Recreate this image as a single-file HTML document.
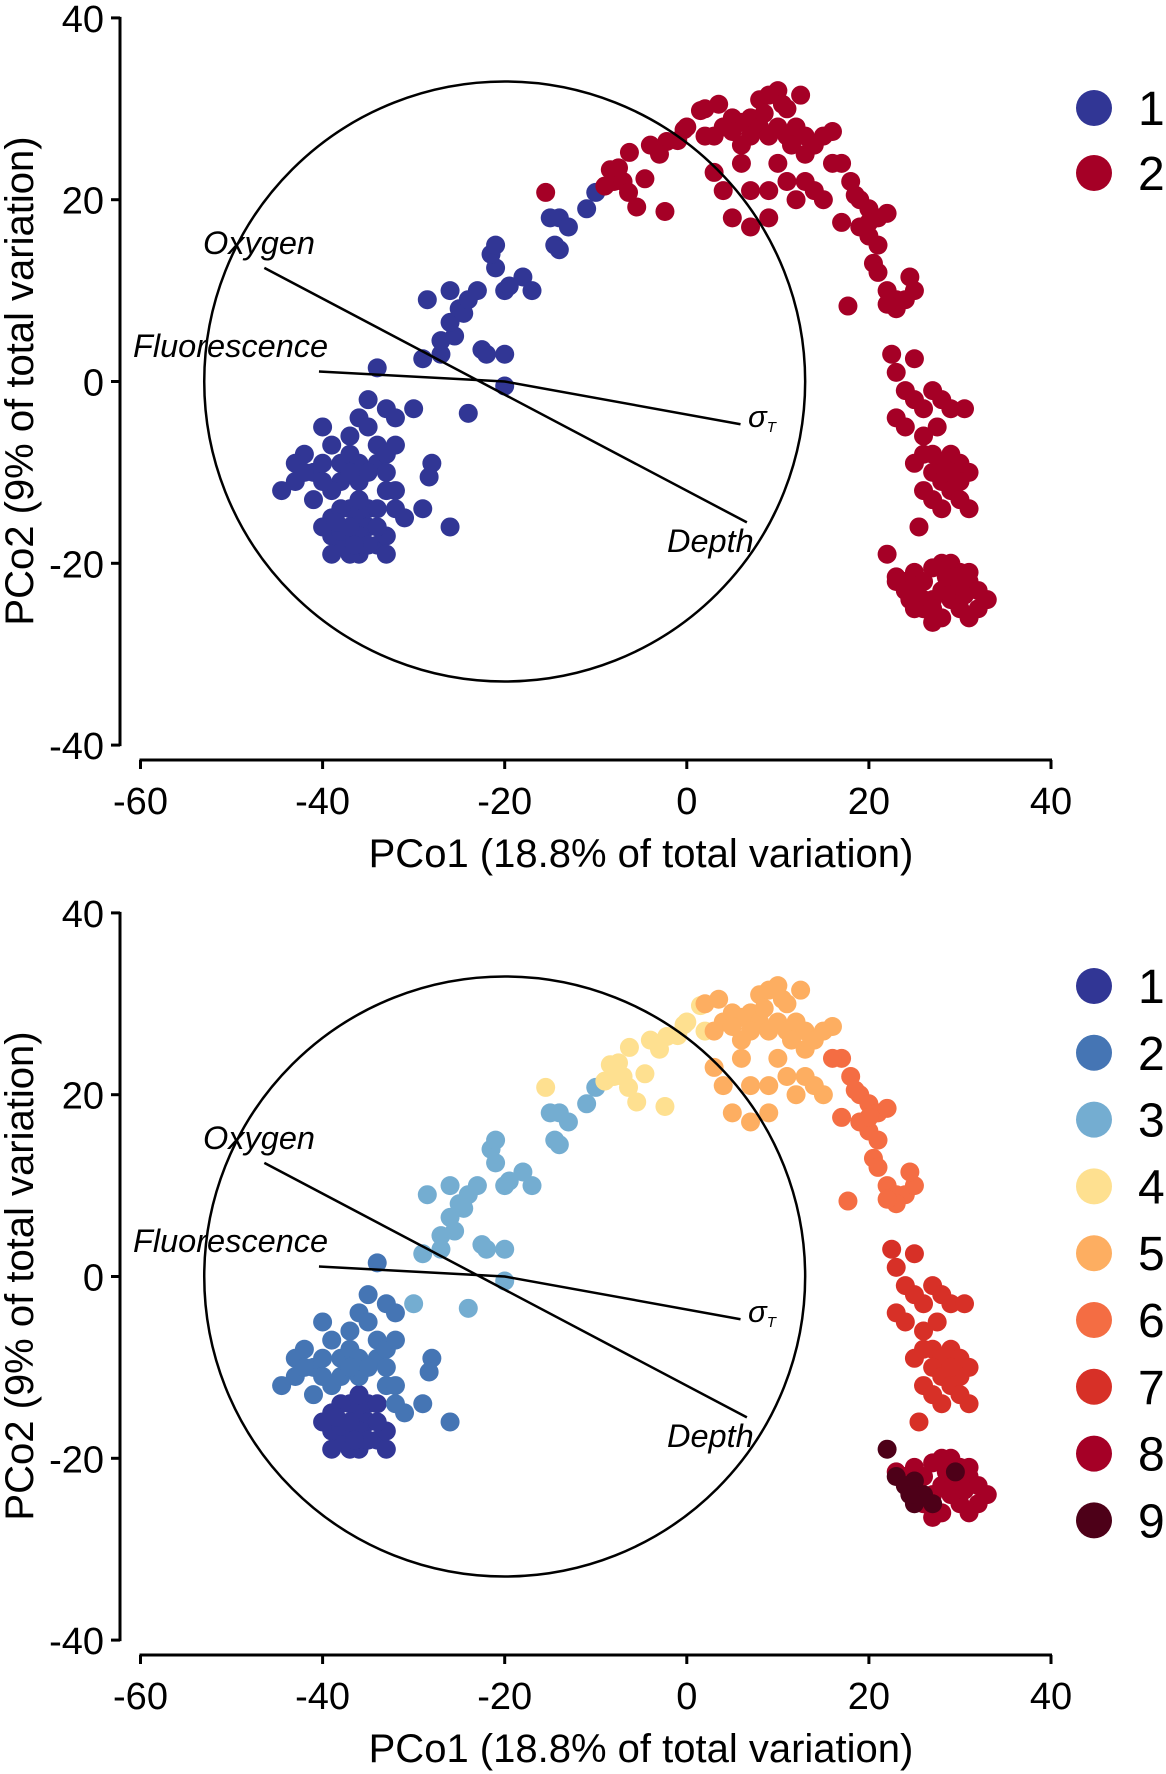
<!DOCTYPE html>
<html><head><meta charset="utf-8"><style>
html,body{margin:0;padding:0;background:#fff}
svg{display:block;font-family:"Liberation Sans",sans-serif}
</style></head><body>
<svg id="chart" width="1166" height="1774" viewBox="0 0 1166 1774" xmlns="http://www.w3.org/2000/svg"></svg>
<script>
// ---- data ----
const xTicks = [-60,-40,-20,0,20,40];
const yTicks = [40,20,0,-20,-40];
const clusterColors = ["#313695","#4575b4","#74add1","#fee090","#fdae61","#f46d43","#d73027","#a50026","#4d0018"];
const groupColors = ["#313695","#a50026"];
const c1 = [[-39,-15],[-38,-16],[-37,-17],[-36,-15],[-35,-16],[-38,-18],[-36,-19],[-34,-18],[-33,-17],[-37,-14],[-39,-17],[-35,-14],[-36,-17],[-38,-16.5],[-34,-16],[-40,-16],[-37,-19],[-35,-18],[-39,-19],[-36,-13],[-33,-19],[-38,-14],[-34,-14],[-37,-16],[-36.5,-18],[-38.5,-15.5]];
const c2 = [[-44.5,-12],[-43,-11],[-42,-8],[-43,-9],[-41,-10],[-41,-13],[-40,-9],[-40,-5],[-39,-7],[-38,-9],[-38,-11],[-37,-6],[-37,-8],[-36,-9],[-36,-4],[-35,-5],[-35,-2],[-34,-7],[-34,-9],[-33,-8],[-33,-12],[-32,-7],[-32,-12],[-33,-3],[-32,-4],[-34,1.5],[-31,-15],[-32,-14],[-28,-9],[-28.3,-10.5],[-29,-14],[-26,-16],[-36,-11],[-39,-12],[-42,-10],[-35,-10],[-33,-10],[-37,-10],[-40,-11]];
const c3 = [[-30,-3],[-29,2.5],[-27,3],[-27,4.5],[-25.5,5],[-26,6.5],[-25,8],[-24.5,7.5],[-24,9],[-23,10],[-22,3],[-22.5,3.5],[-21,12.5],[-21.5,14],[-21,15],[-20,10],[-19.5,10.5],[-20,3],[-20,-0.5],[-24,-3.5],[-28.5,9],[-18,11.5],[-17,10],[-15,18],[-14,18],[-13,17],[-14.5,15],[-14,14.5],[-26,10],[-10,20.8],[-11,19]];
const c4 = [[-15.5,20.8],[-8.4,23.3],[-8,22],[-6.3,25.2],[-7,22],[-4,26],[-2.2,26.4],[-0.3,27.7],[1.5,29.8],[-5.5,19.2],[-2.4,18.7],[-6.4,20.8],[-4.6,22.3],[-3,25],[0,28],[-1,26.5],[2,27],[-9,21.5],[-7.5,23.5]];
const c5 = [[2,30],[3.5,30.5],[4,28],[5,29],[6,28.5],[7,29],[8,31],[9,31.5],[10,32],[11,30],[12.5,31.5],[8,28],[9,27],[10,28],[11,27],[12,28],[13,27],[14,26],[15,27],[16,27.5],[6,24],[7,21],[9,21],[10,24],[11,22],[13,22],[14,21],[4,21],[3,23],[5,18],[7,17],[9,18],[12,20],[15,20],[3,27],[6,26],[5,27.5],[8.5,29.5],[11.5,26],[13,25],[10.5,30.5],[7,27]];
const c6 = [[17,24],[18,22],[19,20],[20,19],[21,18],[22,18.5],[19,17],[20,16],[21,15],[20.5,13],[21,12],[22,10],[23,9],[24,9],[25,10],[24.5,11.5],[23,8],[17.7,8.3],[16,24],[17,17.5],[22,8.5],[18.5,20.5],[20,17.5]];
const c7 = [[22.5,3],[23,1],[25,2.5],[24,-1],[25,-2],[26,-3],[27,-1],[28,-2],[29,-3],[30.5,-3],[23,-4],[24,-5],[26,-6],[27,-8],[28,-9],[29,-8],[30,-9],[31,-10],[25,-9],[27,-10],[28,-11],[29,-12],[30,-13],[31,-14],[28,-14],[26,-12],[27,-13],[30,-11],[25.5,-16],[26,-8],[29,-10],[27.5,-5]];
const c8 = [[23,-21.5],[24,-22],[25,-21],[26,-22],[27,-20.5],[28,-20],[29,-20],[30,-21],[31,-22],[32,-23],[33,-24],[32,-25],[31,-26],[30,-25],[29,-24],[28,-23],[27,-24],[26,-25],[28,-26],[29,-23],[30.5,-23.5],[31,-21],[27,-26.5],[25,-23],[30,-22.5],[28.5,-21.5]];
const c9 = [[22,-19],[23,-22],[24,-23],[25,-22.5],[26,-24],[27,-25],[25,-25],[29.5,-21.5],[24.5,-24]];
const clusters = [c1,c2,c3,c4,c5,c6,c7,c8,c9];
const vecNames = ["Oxygen","Depth","Fluorescence","\u03c3T"];
const vecX = [-46.4, 6.6, -40.4, 5.9];
const vecY = [12.5, -15.5, 1.1, -4.7];
const circleCenter = [-20, 0];
const circleRadius = 33;

// ---- drawing ----
const svg = document.getElementById('chart');
const NS = "http://www.w3.org/2000/svg";
function mk(tag, attrs, parent) {
  const e = document.createElementNS(NS, tag);
  for (const k in attrs) e.setAttribute(k, attrs[k]);
  (parent || svg).appendChild(e);
  return e;
}
function drawPlot(off, mode, name) {
  const xs = v => 140.5 + (v + 60) * 9.105;
  const ys = v => off + 381.5 - v * 9.09;
  const g = mk('g', {});
  
  
  const ya = mk('line', {x1:120, y1:ys(40)-1, x2:120, y2:ys(-40)+1, stroke:'#000','stroke-width':3}, g);
  
  
  yTicks.forEach(t => {
    mk('line', {x1:111, y1:ys(t), x2:120, y2:ys(t), stroke:'#000','stroke-width':3}, g);
    const tl = mk('text', {x:104, y:ys(t)+14, 'text-anchor':'end','font-size':38}, g);
    tl.textContent = t;
    
    
  });
  const xaY = off + 760;
  const xa = mk('line', {x1:xs(-60)-1, y1:xaY, x2:xs(40)+1, y2:xaY, stroke:'#000','stroke-width':3}, g);
  
  
  xTicks.forEach(t => {
    mk('line', {x1:xs(t), y1:xaY, x2:xs(t), y2:xaY+9, stroke:'#000','stroke-width':3}, g);
    const tl = mk('text', {x:xs(t), y:off+814, 'text-anchor':'middle','font-size':38}, g);
    tl.textContent = t;
    
    
  });
  const xt = mk('text', {x:641, y:off+867, 'text-anchor':'middle','font-size':40}, g);
  xt.textContent = 'PCo1 (18.8% of total variation)';
  
  
  const yt = mk('text', {x:0, y:0, 'text-anchor':'middle','font-size':40, transform:`translate(33,${off+381}) rotate(-90)`}, g);
  yt.textContent = 'PCo2 (9% of total variation)';
  
  
  clusters.forEach((cl, ci) => {
    const col = mode === 'group' ? groupColors[ci < 3 ? 0 : 1] : clusterColors[ci];
    cl.forEach(p => {
      const c = mk('circle', {cx:xs(p[0]), cy:ys(p[1]), r:9.5, fill:col}, g);
      
      
    });
  });
  const circ = mk('ellipse', {cx:xs(circleCenter[0]), cy:ys(circleCenter[1]), rx:circleRadius*9.105, ry:circleRadius*9.09, fill:'none', stroke:'#000','stroke-width':2.5}, g);
  
  
  const l1 = mk('line', {x1:xs(vecX[0]), y1:ys(vecY[0]), x2:xs(vecX[1]), y2:ys(vecY[1]), stroke:'#000','stroke-width':2.5}, g);
  
  
  const l2 = mk('polyline', {points:`${xs(vecX[2])},${ys(vecY[2])} ${xs(circleCenter[0])},${ys(circleCenter[1])} ${xs(vecX[3])},${ys(vecY[3])}`, fill:'none', stroke:'#000','stroke-width':2.5}, g);
  
  
  const labs = [[203,254,'Oxygen'],[667,552,'Depth'],[133,357,'Fluorescence']];
  labs.forEach(L => {
    const t = mk('text', {x:L[0], y:off+L[1], 'font-size':32.5, 'font-style':'italic'}, g);
    t.textContent = L[2];
    
    
  });
  const s = mk('text', {x:748, y:off+427, 'font-size':31, 'font-style':'italic'}, g);
  s.textContent = '\u03c3';
  
  
  const st = mk('tspan', {'font-size':15, dy:5}, s);
  st.textContent = 'T';
  const n = mode === 'group' ? 2 : 9;
  for (let i = 0; i < n; i++) {
    const cy = off + (mode === 'group' ? 108 + i*65 : 91 + i*66.8);
    const col = mode === 'group' ? groupColors[i] : clusterColors[i];
    const lc = mk('circle', {cx:1094, cy:cy, r:18, fill:col}, g);
    
    
    const lt = mk('text', {x:1138, y:cy+17, 'font-size':48}, g);
    lt.textContent = i + 1;
    
    
  }
}
drawPlot(0, 'group', 'top-pco-plot');
drawPlot(895, 'cluster', 'bottom-pco-plot');
</script>
</body></html>
